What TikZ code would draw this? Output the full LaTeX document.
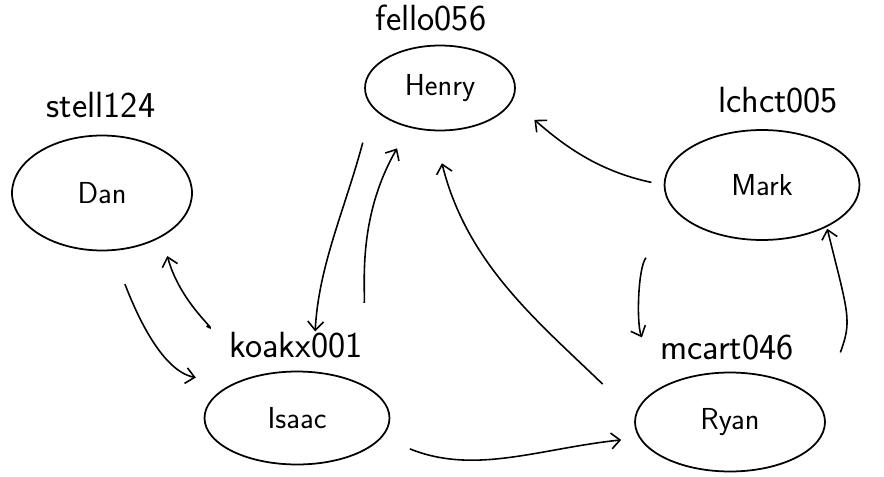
\documentclass[tikz,border=0pt]{standalone}
\usetikzlibrary{arrows.meta,shapes.geometric}
\begin{document}
\begin{tikzpicture}[x=0.02cm, y=-0.02cm,
    person/.style={draw, ellipse, line width=1pt, inner sep=0pt, font=\sffamily\LARGE},
    tag/.style={font=\sffamily\huge, inner sep=0pt},
    arr/.style={-{Straight Barb[length=5pt,width=9pt]}, line width=0.9pt}
]
\useasboundingbox (0,0) rectangle (884,476);
\node[person, minimum width=3cm, minimum height=1.7cm] (henry) at (440,88) {Henry};
\node[person, minimum width=3.6cm, minimum height=2.3cm] (dan) at (102,193) {Dan};
\node[person, minimum width=3.9cm, minimum height=2.2cm] (mark) at (762,185) {Mark};
\node[person, minimum width=3.7cm, minimum height=1.86cm] (isaac) at (297,418) {Isaac};
\node[person, minimum width=3.8cm, minimum height=1.98cm] (ryan) at (730,422) {Ryan};

\node[tag] (henryid) at (431,18) {fello056};
\node[tag] (danid) at (101,105) {stell124};
\node[tag] (markid) at (778,100) {lchct005};
\node[tag] (isaacid) at (296,345) {koakx001};
\node[tag] (ryanid) at (727,348) {mcart046};

\draw[arr, shorten <=0.73cm, shorten >=0.8cm] (henry.196) to[out=255, in=87] (isaac.71);
\draw[arr, shorten <=1.62cm, shorten >=0.48cm] (isaac.28) to[out=88, in=240] (henry.232);
\draw[arr, shorten <=1.8cm, shorten >=0.4cm] (isaac.105) to[out=150, in=-75] (dan.-36);
\draw[arr, shorten <=0.71cm, shorten >=0.72cm] (dan.-80) to[out=-69, in=169] (isaac.153);
\draw[arr, shorten <=0.6cm, shorten >=0.36cm] (isaac.-13) to[out=-22, in=186] (ryan.190);
\draw[arr, shorten <=0.9cm, shorten >=0.66cm] (ryan.176) to[out=136, in=284] (henry.262);
\draw[arr, shorten <=0.25cm, shorten >=0.58cm] (mark.west) to[out=168, in=319] (henry.-10);
\draw[arr, shorten <=1.08cm, shorten >=1.06cm] (mark.200) to[out=232, in=113] (ryan.152);
\draw[arr, shorten <=1.14cm, shorten >=1pt, looseness=1.3] (ryan.10) to[out=70, in=284] (mark.-33);
\end{tikzpicture}
\end{document}
